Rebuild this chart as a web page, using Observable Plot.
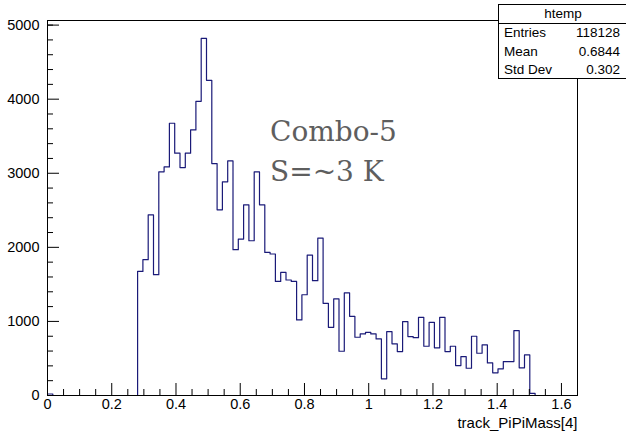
<!DOCTYPE html>
<html><head><meta charset="utf-8">
<script src="https://cdn.jsdelivr.net/npm/d3@7"></script>
<script src="https://cdn.jsdelivr.net/npm/@observablehq/plot@0.6"></script>
<style>
body{margin:0;background:#fff;}
#wrap{position:relative;width:626px;height:432px;overflow:hidden;font-family:"Liberation Sans",Arial,sans-serif;}
#stats{position:absolute;left:498px;top:4px;width:140px;height:73px;border:1px solid #000;background:#fff;font-size:13.5px;color:#000;}
#stats .hdr{height:18px;border-bottom:1px solid #000;text-align:center;line-height:18px;padding-right:12px;}
#stats .row{position:relative;height:18.5px;line-height:18.5px;}
#stats .row .k{position:absolute;left:5px;}
#stats .row .v{position:absolute;right:19px;}
.ann{position:absolute;left:270px;font-family:"DejaVu Serif",serif;font-size:28px;color:#5e5e5e;white-space:nowrap;line-height:32px;}
</style></head>
<body><div id="wrap"></div>
<script>
// Histogram definition (ROOT TTree::Draw, 100 bins)
const xRange = [0, 1.65];
const nBins = 100;
const counts = [
  20,0,0,0,0,0,0,0,0,0,
  0,0,0,0,0,0,0,1675,1833,2439,
  1631,3019,3086,3675,3271,3077,3271,3585,3971,4821,
  4255,3131,2507,2884,3167,1968,2112,2574,2089,3019,
  2574,1931,1910,1540,1662,1559,1540,1020,1360,1896,
  1550,2125,1244,920,1303,597,1384,1069,786,831,
  853,831,764,225,862,697,593,997,795,780,
  1055,665,988,643,1055,593,665,404,526,368,
  800,570,683,440,306,360,458,458,876,373,
  548,30,0,0,0,0,0,0,0,0
];
const xMajorTicks = [0, 0.2, 0.4, 0.6, 0.8, 1, 1.2, 1.4, 1.6];
const xMinorTicks = [0.05,0.1,0.15,0.25,0.3,0.35,0.45,0.5,0.55,0.65,0.7,0.75,0.85,0.9,0.95,1.05,1.1,1.15,1.25,1.3,1.35,1.45,1.5,1.55,1.65];
const yMajorTicks = [0, 1000, 2000, 3000, 4000, 5000];
const yMinorTicks = [200,400,600,800,1200,1400,1600,1800,2200,2400,2600,2800,3200,3400,3600,3800,4200,4400,4600,4800,5000];
const xTitle = "track_PiPiMass[4]";
const statName = "htemp";
const statLabels = ["Entries", "Mean", "Std Dev"];
const statValues = ["118128", "0.6844", "0.302"];
const annotation = ["Combo-5", "S=~3 K"];

const binW = (xRange[1] - xRange[0]) / nBins;
const steps = counts.map((c, i) => ({x: xRange[0] + i * binW, y: c}));
steps.push({x: xRange[1], y: counts[nBins - 1]});
const yMax = d3.max(counts) * 1.05;

const W = 626, H = 432, mL = 47, mR = 49, mT = 20, mB = 37;
const fw = W - mL - mR, fh = H - mT - mB;

const plot = Plot.plot({
  width: W, height: H,
  marginLeft: mL, marginRight: mR, marginTop: mT, marginBottom: mB,
  style: {fontFamily: "Liberation Sans, Arial, sans-serif", fontSize: "14.5px", color: "#000", background: "#fff"},
  x: {domain: xRange},
  y: {domain: [0, yMax]},
  marks: [
    Plot.line(steps, {x: "x", y: "y", curve: "step-after", stroke: "#1a1a78", strokeWidth: 1.2}),
    Plot.tickX(xMajorTicks, {x: d => d, insetTop: fh - 12, stroke: "#000"}),
    Plot.tickX(xMinorTicks, {x: d => d, insetTop: fh - 6, stroke: "#000"}),
    Plot.tickY(yMajorTicks, {y: d => d, insetRight: fw - 12, stroke: "#000"}),
    Plot.tickY(yMinorTicks, {y: d => d, insetRight: fw - 6, stroke: "#000"}),
    Plot.axisX({ticks: xMajorTicks, tickSize: 0, tickPadding: 3, tickFormat: d => String(d), label: null}),
    Plot.axisY({ticks: yMajorTicks, tickSize: 0, tickPadding: 8, tickFormat: d => String(d), label: null}),
    Plot.text([xTitle], {frameAnchor: "bottom-right", dy: 32, text: d => d, fontSize: 15}),
    Plot.frame({stroke: "#000"})
  ]
});
const wrap = document.getElementById("wrap");
wrap.appendChild(plot);

const stats = document.createElement("div");
stats.id = "stats";
stats.innerHTML = `<div class="hdr">${statName}</div>` +
  statLabels.map((l, i) => `<div class="row"><span class="k">${l}</span><span class="v">${statValues[i]}</span></div>`).join("");
wrap.appendChild(stats);

annotation.forEach((t, i) => {
  const d = document.createElement("div");
  d.className = "ann";
  d.textContent = t;
  d.style.top = (116 + i * 40) + "px";
  wrap.appendChild(d);
});
</script></body></html>
